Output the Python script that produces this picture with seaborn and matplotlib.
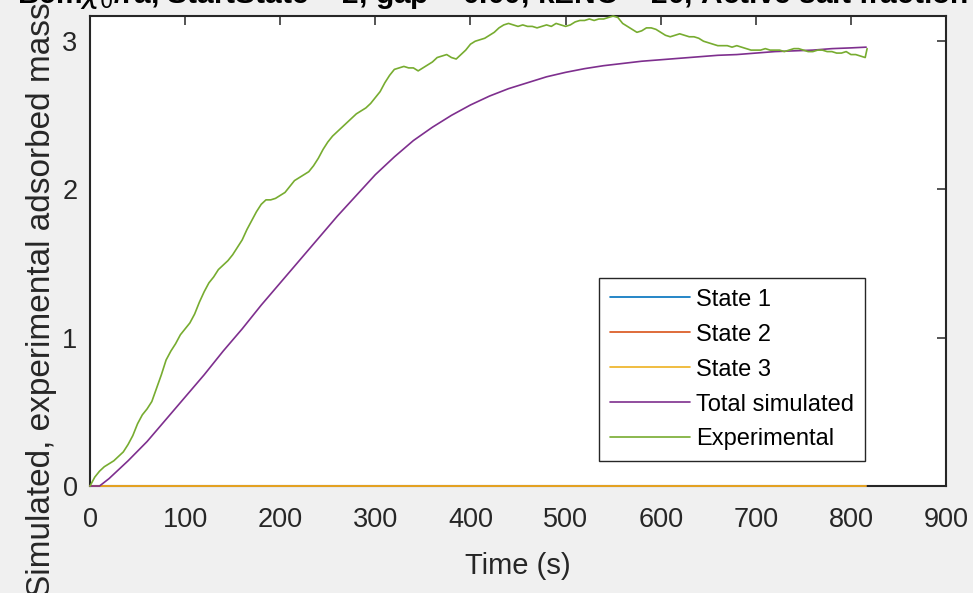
import matplotlib
matplotlib.use("Agg")
import matplotlib.pyplot as plt
import numpy as np
import pandas as pd
import seaborn as sns

# ---- simulated adsorbed mass (time grid of the model output) ----
t_sim = [0, 10, 20, 40, 60, 80, 100, 120, 140, 160, 180, 200, 220, 240, 260,
         280, 300, 320, 340, 360, 380, 400, 420, 440, 460, 480, 500, 520, 540,
         560, 580, 600, 620, 640, 660, 680, 700, 720, 740, 760, 780, 800, 816]
total_sim = [0.00, 0.00, 0.05, 0.17, 0.30, 0.45, 0.60, 0.75, 0.91, 1.06, 1.22,
             1.37, 1.52, 1.67, 1.82, 1.96, 2.10, 2.22, 2.33, 2.42, 2.50, 2.57,
             2.63, 2.68, 2.72, 2.76, 2.79, 2.815, 2.835, 2.85, 2.865, 2.875,
             2.885, 2.895, 2.905, 2.91, 2.92, 2.93, 2.935, 2.94, 2.95, 2.955,
             2.96]
state1 = [0.0] * len(t_sim)
state2 = [0.0] * len(t_sim)
state3 = [0.0] * len(t_sim)

# ---- experimental adsorbed mass ----
t_exp = list(range(0, 820, 5)) + [817]
experimental = [
    0.00, 0.06, 0.10, 0.13, 0.15, 0.17, 0.20, 0.23, 0.28, 0.34,
    0.42, 0.48, 0.52, 0.57, 0.66, 0.75, 0.85, 0.91, 0.96, 1.02,
    1.06, 1.10, 1.16, 1.24, 1.31, 1.37, 1.41, 1.46, 1.49, 1.52,
    1.56, 1.61, 1.66, 1.73, 1.79, 1.85, 1.90, 1.93, 1.93, 1.94,
    1.96, 1.98, 2.02, 2.06, 2.08, 2.10, 2.12, 2.16, 2.21, 2.27,
    2.32, 2.36, 2.39, 2.42, 2.45, 2.48, 2.51, 2.53, 2.55, 2.58,
    2.62, 2.66, 2.72, 2.77, 2.81, 2.82, 2.83, 2.82, 2.82, 2.80,
    2.82, 2.84, 2.86, 2.89, 2.90, 2.91, 2.89, 2.88, 2.91, 2.94,
    2.98, 3.00, 3.01, 3.02, 3.04, 3.06, 3.09, 3.11, 3.12, 3.11,
    3.10, 3.11, 3.10, 3.10, 3.09, 3.10, 3.11, 3.10, 3.12, 3.11,
    3.10, 3.11, 3.13, 3.14, 3.14, 3.15, 3.14, 3.15, 3.15, 3.16,
    3.17, 3.16, 3.12, 3.10, 3.08, 3.06, 3.07, 3.09, 3.09, 3.08,
    3.06, 3.04, 3.03, 3.04, 3.05, 3.04, 3.03, 3.03, 3.02, 3.00,
    2.99, 2.98, 2.97, 2.97, 2.97, 2.96, 2.97, 2.96, 2.95, 2.94,
    2.94, 2.94, 2.95, 2.94, 2.94, 2.94, 2.93, 2.94, 2.95, 2.95,
    2.94, 2.93, 2.93, 2.94, 2.94, 2.93, 2.93, 2.92, 2.92, 2.93,
    2.91, 2.91, 2.90, 2.89, 2.95,
]

series_labels = ["State 1", "State 2", "State 3", "Total simulated", "Experimental"]
series_colors = ["#0072BD", "#D95319", "#EDB120", "#7E2F8E", "#77AC30"]
x_ticks = [0, 100, 200, 300, 400, 500, 600, 700, 800, 900]
y_ticks = [0, 1, 2, 3]
title_text = (r"Bcm$\chi_0$/ra, StartState = 2, gap = 0.00, kENC = 20, "
              r"Active salt fraction = 1")

sns.set_style("white")
plt.rcParams["font.family"] = ["Liberation Sans", "DejaVu Sans"]
plt.rcParams["mathtext.fontset"] = "dejavusans"
ink = "#262626"

fig = plt.figure(figsize=(9.73, 5.93), dpi=100, facecolor="#f0f0f0")
ax = fig.add_axes([0.0925, 0.1804, 0.8798, 0.7926])
ax.set_facecolor("white")

sim_df = pd.DataFrame({"t": t_sim, "State 1": state1, "State 2": state2,
                       "State 3": state3, "Total simulated": total_sim})
exp_df = pd.DataFrame({"t": t_exp, "Experimental": experimental})

for name, col in zip(series_labels, series_colors):
    src = exp_df if name == "Experimental" else sim_df
    sns.lineplot(data=src, x="t", y=name, ax=ax, color=col, lw=1.2,
                 label=name, clip_on=False, zorder=3)

ax.set_xlim(0, 900)
ax.set_ylim(0, max(experimental))
ax.set_xticks(x_ticks)
ax.set_yticks(y_ticks)

for s in ax.spines.values():
    s.set_linewidth(1.5)
    s.set_color(ink)
    s.set_zorder(2.5)

ax.tick_params(axis="both", direction="in", length=6.8, width=1.1,
               colors=ink, labelsize=19.5, top=True, right=True,
               labeltop=False, labelright=False)
ax.tick_params(axis="x", pad=15)
ax.tick_params(axis="y", pad=9)

ax.set_xlabel("Time (s)", fontsize=21, color=ink, labelpad=14)
ax.set_ylabel("Simulated, experimental adsorbed mass", fontsize=24, color=ink)
ax.yaxis.set_label_coords(-0.0386, 0.396)

ax.text(0.5, 1.028, title_text, transform=ax.transAxes, ha="center",
        va="baseline", fontsize=21.5, fontweight="bold", color="black")

leg = ax.legend(loc="lower left", bbox_to_anchor=(0.595, 0.053),
                borderaxespad=0, fontsize=17, frameon=True, fancybox=False,
                framealpha=1, edgecolor="#262626", handlelength=3.4,
                handletextpad=0.25, labelspacing=0.55, borderpad=0.45)
leg.get_frame().set_linewidth(1.0)
for txt in leg.get_texts():
    txt.set_color("black")

fig.savefig("out.png", dpi=100, facecolor=fig.get_facecolor())
